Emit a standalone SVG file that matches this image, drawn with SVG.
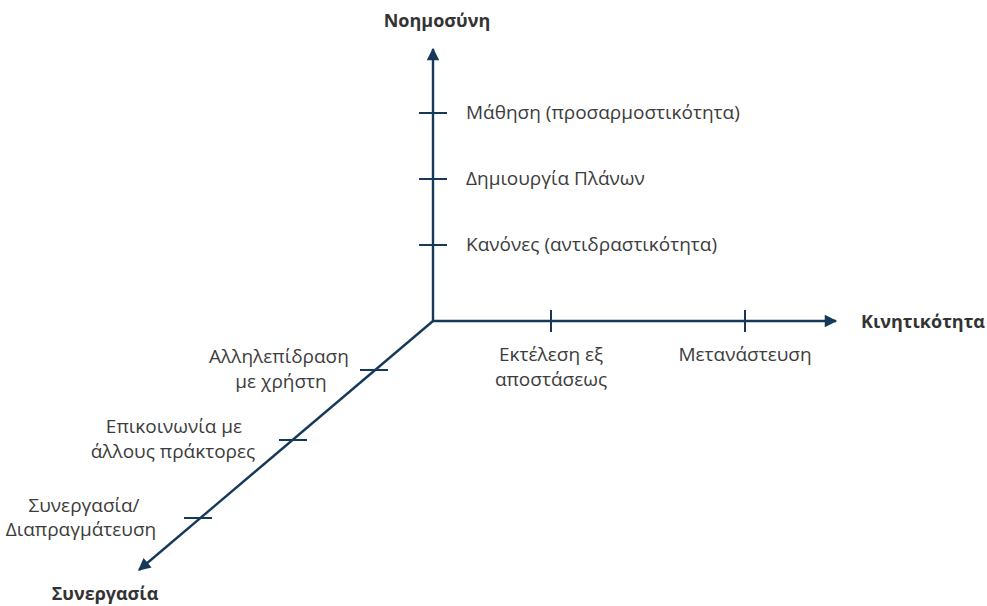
<svg xmlns="http://www.w3.org/2000/svg" width="987" height="606" viewBox="0 0 987 606">
  <style>
    .axis { stroke: #16395a; stroke-width: 2.4; fill: none; }
    .tick { stroke: #16395a; stroke-width: 2; fill: none; }
    .lbl { font-family: "Open Sans", "Noto Sans", sans-serif; font-size: 19px; fill: #3c3c3c; }
    .ttl { font-family: "Open Sans", "Noto Sans", sans-serif; font-size: 18px; font-weight: bold; fill: #333333; }
    .mid { text-anchor: middle; }
  </style>
  <defs>
    <marker id="arrow" viewBox="0 0 10 10" refX="9" refY="5" markerWidth="6" markerHeight="5.2" markerUnits="strokeWidth" orient="auto">
      <path d="M0,0 L10,5 L0,10 Z" fill="#16395a"/>
    </marker>
  </defs>
  <rect width="987" height="606" fill="#ffffff"/>

  <g id="connectors">
    <line class="axis" x1="433" y1="322" x2="433" y2="49" marker-end="url(#arrow)"/>
    <line class="axis" x1="432" y1="321" x2="836" y2="321" marker-end="url(#arrow)"/>
    <line class="axis" x1="433" y1="321" x2="139" y2="570" marker-end="url(#arrow)"/>
  </g>

  <g id="axis-intelligence">
    <text class="ttl mid" x="437" y="27">Νοημοσύνη</text>
    <line class="tick" x1="419" y1="113" x2="447" y2="113"/>
    <line class="tick" x1="419" y1="179" x2="447" y2="179"/>
    <line class="tick" x1="419" y1="245" x2="447" y2="245"/>
    <text class="lbl" x="466" y="119">Μάθηση (προσαρμοστικότητα)</text>
    <text class="lbl" x="466" y="185">Δημιουργία Πλάνων</text>
    <text class="lbl" x="466" y="251">Κανόνες (αντιδραστικότητα)</text>
  </g>

  <g id="axis-mobility">
    <text class="ttl" x="861" y="328">Κινητικότητα</text>
    <line class="tick" x1="551" y1="310" x2="551" y2="332"/>
    <line class="tick" x1="745" y1="310" x2="745" y2="332"/>
    <text class="lbl mid" x="551" y="361">Εκτέλεση εξ</text>
    <text class="lbl mid" x="551" y="386">αποστάσεως</text>
    <text class="lbl mid" x="745" y="361">Μετανάστευση</text>
  </g>

  <g id="axis-cooperation">
    <text class="ttl mid" x="105" y="600">Συνεργασία</text>
    <line class="tick" x1="360" y1="370" x2="388" y2="370"/>
    <line class="tick" x1="279" y1="440" x2="307" y2="440"/>
    <line class="tick" x1="184" y1="518" x2="212" y2="518"/>
    <text class="lbl mid" x="279" y="363">Αλληλεπίδραση</text>
    <text class="lbl mid" x="281" y="388">με χρήστη</text>
    <text class="lbl mid" x="174" y="433">Επικοινωνία με</text>
    <text class="lbl mid" x="173" y="458">άλλους πράκτορες</text>
    <text class="lbl mid" x="84" y="512">Συνεργασία/</text>
    <text class="lbl mid" x="81" y="536">Διαπραγμάτευση</text>
  </g>
</svg>
